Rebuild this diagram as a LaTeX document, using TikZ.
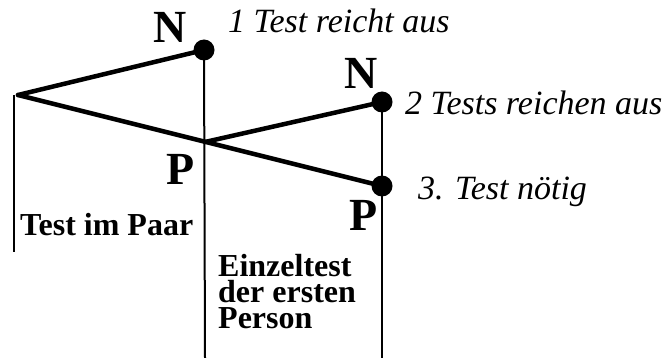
\documentclass[tikz,border=0pt]{standalone}
\usepackage{fontspec}
\setmainfont{Liberation Serif}
\begin{document}
\begin{tikzpicture}[x=1pt,y=-1pt,
  branch/.style={line width=4.5pt, line cap=round},
  stem/.style={line width=2pt},
  dot/.style={circle, fill=black, inner sep=0pt, minimum size=21pt},
  letter/.style={inner sep=0pt, anchor=base, font=\fontsize{46}{46}\selectfont\bfseries},
  result/.style={inner sep=0pt, anchor=base west, font=\fontsize{34}{34}\selectfont\itshape},
  stage/.style={inner sep=0pt, anchor=base west, text height=23pt, text depth=0pt, font=\fontsize{32}{32}\selectfont\bfseries}]
\useasboundingbox (0,0) rectangle (669,358);
% points
\coordinate (r) at (18,95);
\coordinate (c) at (205,142);
\node[dot] (n1) at (204,50) {};
\node[dot] (n2) at (382,102) {};
\node[dot] (p2) at (382,186) {};
\coordinate (l0) at (14,95);
\coordinate (l1) at (14,252);
\coordinate (m1) at (205,358);
\coordinate (q1) at (382,358);
% stems
\draw[stem] (l0) -- (l1);
\draw[stem] (n1.center) -- (m1);
\draw[stem] (n2.center) -- (q1);
% branches
\draw[branch] (r) -- (n1.center);
\draw[branch] (r) -- (p2.center);
\draw[branch] (c) -- (n2.center);
% letters
\node[letter] (N1) at (170,43) {N};
\node[letter] (N2) at (361,89) {N};
\node[letter] (P1) at (181,185) {P};
\node[letter] (P2) at (364,230) {P};
% results
\node[result] (t1) at (228,33) {1 Test reicht aus};
\node[result] (t2) at (405,115) {2 Tests reichen aus};
\node[result] (t3) at (418,200) {3. Test nötig};
% stages
\node[stage] (s1) at (20,235) {Test im Paar};
\node[stage] (s2) at (218,276) {Einzeltest};
\node[stage] (s3) at (218,302) {der ersten};
\node[stage] (s4) at (218,328) {Person};
\end{tikzpicture}
\end{document}
